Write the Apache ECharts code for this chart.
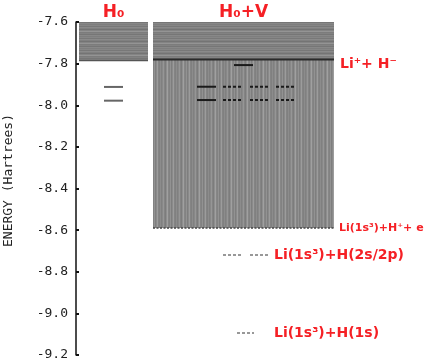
<!DOCTYPE html>
<html>
<head>
<meta charset="utf-8">
<script src="https://cdn.jsdelivr.net/npm/echarts@6/dist/echarts.min.js"></script>
<style>html,body{margin:0;padding:0;background:#fff}#c{width:427px;height:362px}</style>
</head>
<body>
<div id="c"></div>
<script>
// ---------- data (energies in Hartrees) ----------
const columns = ['H₀', 'H₀+V'];
const h0Continuum = [-7.6, -7.785];
const h0Levels = [-7.912, -7.978];
const hvUpperContinuum = [-7.6, -7.78];
const hvLowerContinuum = [-7.78, -8.59];
const hvBoundLevel = [-7.807];
const hvLevels = [-7.911, -7.975];
const asymptoteEnergies = [-7.78, -8.59, -8.72, -9.094];
const asymptoteLabels = ['Li⁺+ H⁻', 'Li(1s³)+H⁺+ e', 'Li(1s³)+H(2s/2p)', 'Li(1s³)+H(1s)'];
const yMin = -9.2, yMax = -7.6, yStep = 0.2;

// ---------- layout (horizontal positions, px from axis) ----------
const L = {
  h0Box: [3, 72],
  h0Lev: [28, 47],
  hvBox: [77, 258],
  hvBound: [158, 177],
  hvSolid: [121, 140],
  hvDashed: [[147, 166], [174, 192], [200, 219]],
  asymLines: [null, null, [[147, 166], [174, 192]], [[161, 178]]],
  asymLabelX: [264, 263, 198, 198],
  asymLabelDy: [5, 0, 0, 0],
  asymFont: [14, 11, 14, 14]
};
const RED = '#f52025';

// ---------- texture patterns ----------
function makePattern(horizontal) {
  const shades = horizontal
    ? [126, 134, 120, 138, 128, 116, 132, 148, 124, 130, 118, 136]
    : [140, 128, 136, 150, 132, 124, 142, 160, 134, 130, 146, 126, 138, 156, 132, 128];
  const c = document.createElement('canvas');
  c.width = horizontal ? 4 : shades.length;
  c.height = horizontal ? shades.length : 4;
  const g = c.getContext('2d');
  shades.forEach((s, i) => {
    g.fillStyle = 'rgb(' + s + ',' + s + ',' + s + ')';
    if (horizontal) g.fillRect(0, i, 4, 1); else g.fillRect(i, 0, 1, 4);
  });
  return { image: c, repeat: 'repeat' };
}
const patH = makePattern(true);
const patV = makePattern(false);

function rectFrom(api, xs, top, bottom, style) {
  const p0 = api.coord([xs[0], top]);
  const p1 = api.coord([xs[1], bottom]);
  return { type: 'rect', shape: { x: p0[0], y: p0[1], width: p1[0] - p0[0], height: p1[1] - p0[1] }, style: style };
}
function lineFrom(api, xs, e, style) {
  const p0 = api.coord([xs[0], e]);
  const p1 = api.coord([xs[1], e]);
  return { type: 'line', shape: { x1: p0[0], y1: p0[1], x2: p1[0], y2: p1[1] }, style: style };
}

const chart = echarts.init(document.getElementById('c'));
chart.setOption({
  animation: false,
  grid: { left: 76, right: 0, top: 22, bottom: 7, containLabel: false, outerBoundsMode: 'none' },
  xAxis: { type: 'value', min: 0, max: 351, show: false },
  yAxis: {
    type: 'value', min: yMin, max: yMax, interval: yStep,
    name: 'ENERGY (Hartrees)', nameLocation: 'middle', nameRotate: 90, nameGap: 61,
    nameTextStyle: { fontFamily: 'DejaVu Sans Mono', fontSize: 13, color: '#222', padding: [0, 0, 0, 16] },
    axisLine: { show: true, lineStyle: { color: '#111', width: 1.5 } },
    axisTick: { show: true, inside: true, length: 3, lineStyle: { color: '#111', width: 2 } },
    axisLabel: { fontFamily: 'DejaVu Sans Mono', fontSize: 13, color: '#222', margin: 8,
      formatter: v => v.toFixed(1) },
    splitLine: { show: false }
  },
  series: [
    { // H0 continuum box
      type: 'custom', encode: { y: [0, 1] }, data: [h0Continuum],
      renderItem: (p, api) => ({ type: 'group', children: [
        rectFrom(api, L.h0Box, api.value(0), api.value(1), { fill: patH }),
        lineFrom(api, L.h0Box, api.value(1), { stroke: '#555', lineWidth: 1.5 })
      ] })
    },
    { // H0+V lower continuum
      type: 'custom', encode: { y: [0, 1] }, data: [hvLowerContinuum],
      renderItem: (p, api) => ({ type: 'group', children: [
        rectFrom(api, L.hvBox, api.value(0), api.value(1), { fill: patV }),
        lineFrom(api, L.hvBox, api.value(1), { stroke: '#444', lineWidth: 1.5, lineDash: [2, 1.5] })
      ] })
    },
    { // H0+V upper continuum
      type: 'custom', encode: { y: [0, 1] }, data: [hvUpperContinuum],
      renderItem: (p, api) => ({ type: 'group', children: [
        rectFrom(api, L.hvBox, api.value(0), api.value(1), { fill: patH }),
        lineFrom(api, L.hvBox, api.value(1), { stroke: '#2a2a2a', lineWidth: 2 })
      ] })
    },
    { // H0 bound levels
      type: 'custom', encode: { y: 0 }, data: h0Levels.map(v => [v]),
      renderItem: (p, api) => lineFrom(api, L.h0Lev, api.value(0), { stroke: '#666', lineWidth: 2 })
    },
    { // H0+V bound level just below threshold
      type: 'custom', encode: { y: 0 }, data: hvBoundLevel.map(v => [v]),
      renderItem: (p, api) => lineFrom(api, L.hvBound, api.value(0), { stroke: '#1a1a1a', lineWidth: 2 })
    },
    { // H0+V level rows
      type: 'custom', encode: { y: 0 }, data: hvLevels.map(v => [v]),
      renderItem: (p, api) => {
        const e = api.value(0);
        const ch = [lineFrom(api, L.hvSolid, e, { stroke: '#1a1a1a', lineWidth: 2 })];
        L.hvDashed.forEach(xs => ch.push(lineFrom(api, xs, e, { stroke: '#1a1a1a', lineWidth: 2, lineDash: [3, 2] })));
        return { type: 'group', children: ch };
      }
    },
    { // asymptote markers and labels
      type: 'custom', encode: { y: 0 }, data: asymptoteEnergies.map(v => [v]),
      renderItem: (p, api) => {
        const i = p.dataIndex;
        const e = api.value(0);
        const ch = [];
        (L.asymLines[i] || []).forEach(xs => ch.push(lineFrom(api, xs, e, { stroke: '#777', lineWidth: 1.5, lineDash: [3, 2] })));
        const pt = api.coord([L.asymLabelX[i], e]);
        ch.push({ type: 'text', x: pt[0], y: pt[1] + L.asymLabelDy[i], style: {
          text: asymptoteLabels[i], fill: RED, font: 'bold ' + L.asymFont[i] + 'px "DejaVu Sans"',
          textAlign: 'left', textVerticalAlign: 'middle' } });
        return { type: 'group', children: ch };
      }
    },
    { // column titles
      type: 'custom', encode: { y: 0 }, data: [[h0Continuum[0]], [hvUpperContinuum[0]]],
      renderItem: (p, api) => {
        const xs = p.dataIndex === 0 ? L.h0Box : L.hvBox;
        const pt = api.coord([(xs[0] + xs[1]) / 2, api.value(0)]);
        return { type: 'text', x: pt[0], y: pt[1] - 1, style: {
          text: columns[p.dataIndex], fill: RED, font: 'bold 17px "DejaVu Sans"',
          textAlign: 'center', textVerticalAlign: 'bottom' } };
      }
    }
  ]
});
</script>
</body>
</html>
